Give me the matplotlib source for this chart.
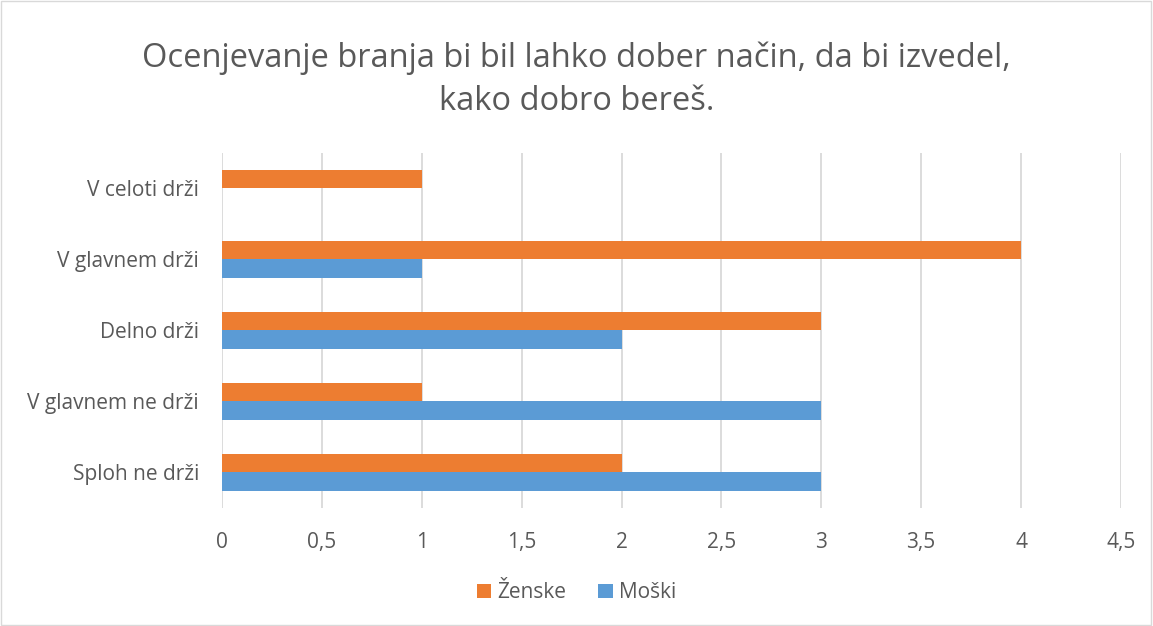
from matplotlib import pyplot as plt
from matplotlib.patches import Rectangle
import numpy as np

plt.rcParams['font.family'] = ['Open Sans', 'DejaVu Sans']

categories = ["Sploh ne drži", "V glavnem ne drži", "Delno drži", "V glavnem drži", "V celoti drži"]
zenske = [2, 1, 3, 4, 1]
moski = [3, 3, 2, 1, 0]
xticks = [0, 0.5, 1, 1.5, 2, 2.5, 3, 3.5, 4, 4.5]
xticklabels = ["0", "0,5", "1", "1,5", "2", "2,5", "3", "3,5", "4", "4,5"]

text_col = "#595959"
grid_col = "#d9d9d9"

fig = plt.figure(figsize=(11.53, 6.26), dpi=100)
ax = fig.add_axes([0.1925, 0.1885, 0.7797, 0.5671])

y = np.arange(len(categories))
h = 0.254
ax.barh(y + h / 2, zenske, height=h, color="#ED7D31", label="Ženske", zorder=3)
ax.barh(y - h / 2, moski, height=h, color="#5B9BD5", label="Moški", zorder=3)

ax.set_xlim(0, 4.5)
ax.set_ylim(-0.5, len(categories) - 0.5)
ax.set_xticks(xticks)
ax.set_xticklabels(xticklabels)
ax.set_yticks(y)
ax.set_yticklabels(categories)
ax.tick_params(axis="both", length=0, labelsize=15, colors=text_col)
ax.tick_params(axis="y", pad=16.5)
ax.tick_params(axis="x", pad=17)
ax.grid(axis="x", color=grid_col, linewidth=1.3, zorder=0)
for s in ax.spines.values():
    s.set_visible(False)

# titel
fig.text(0.5, 0.872, "Ocenjevanje branja bi bil lahko dober način, da bi izvedel,\nkako dobro bereš.",
         ha="center", va="center", fontsize=23.5, color=text_col, linespacing=1.4)

handles, labels = ax.get_legend_handles_labels()
fig.legend(handles, labels, loc="center", bbox_to_anchor=(0.5, 0.053), ncol=2, frameon=False,
           fontsize=15, labelcolor=text_col, handlelength=0.7, handleheight=0.7,
           handletextpad=0.3, columnspacing=1.5)

# okvir
fig.patches.append(Rectangle((0.001, 0.001), 0.997, 0.997, transform=fig.transFigure,
                             fill=False, edgecolor=grid_col, linewidth=1))

plt.savefig("out.png", dpi=100)
